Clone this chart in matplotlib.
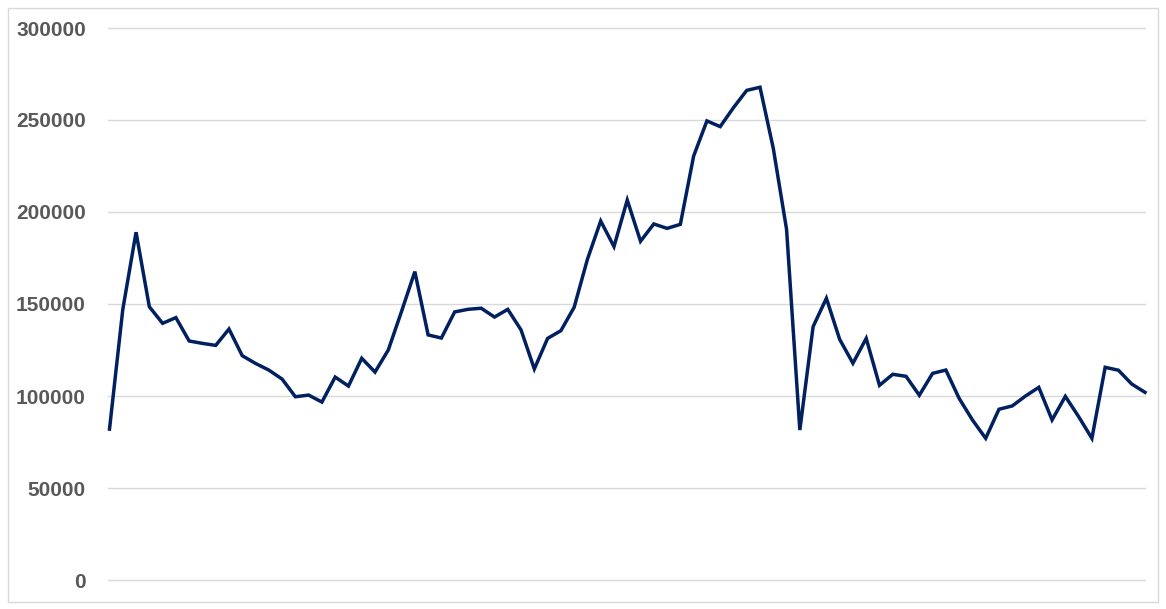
#!/usr/bin/env python3
"""
Recreate a single-series line chart (Excel style) and save as out.png.
"""
import matplotlib
matplotlib.use("Agg")
import matplotlib.pyplot as plt
from matplotlib.patches import Rectangle

# values, one per category (79 points)
values = [
    82000, 147000, 189000, 148500, 139500, 142600, 129900, 128600, 127500, 136400,
    121900, 117700, 114100, 109200, 99600, 100500, 96700, 110300, 105400, 120500,
    113000, 125000, 146000, 167600, 133200, 131500, 145700, 147100, 147700, 142900,
    147100, 135900, 114700, 131300, 135500, 148200, 174300, 195100, 181200, 206500,
    184100, 193500, 191100, 193300, 230400, 249500, 246400, 256700, 266100, 267800,
    234600, 190600, 81500, 137700, 153100, 130800, 117800, 131300, 105800, 111800,
    110700, 100400, 112300, 114100, 98700, 87000, 77000, 92800, 94600, 100000,
    104700, 87000, 99800, 88800, 77000, 115600, 114000, 106500, 102000,
]
categories = list(range(len(values)))
y_ticks = [0, 50000, 100000, 150000, 200000, 250000, 300000]

LINE = "#002060"
GRID = "#d9d9d9"
LABEL = "#595959"

W, H = 1166, 609
fig = plt.figure(figsize=(W / 100, H / 100), dpi=100)

# plot area in pixel terms
left, right, top, bottom = 109.5, 1145, 28, 580
ax = fig.add_axes([left / W, 1 - bottom / H, (right - left) / W, (bottom - top) / H])

ax.plot(categories, values, color=LINE, linewidth=2.5, solid_joinstyle="miter",
        clip_on=False, zorder=3)

ax.set_xlim(0, len(values) - 1)
ax.set_ylim(0, 300000)
ax.set_yticks(y_ticks)
ax.set_yticklabels([str(t) for t in y_ticks])
ax.set_xticks([])
ax.tick_params(axis="y", length=0, pad=17, labelsize=15, labelcolor=LABEL)
for lab in ax.get_yticklabels():
    lab.set_fontfamily("Liberation Sans")
    lab.set_fontweight("bold")

# horizontal gridlines only, spanning slightly left of the first point
for t in y_ticks:
    ax.axhline(t, color=GRID, linewidth=1, zorder=1, xmin=-0.0015, clip_on=False)

for s in ax.spines.values():
    s.set_visible(False)

# chart border
fig.patches.append(Rectangle((7.5 / W, 1 - 601.5 / H), 1150.5 / W, 594 / H,
                             transform=fig.transFigure, fill=False,
                             edgecolor=GRID, linewidth=1))

fig.savefig("out.png", dpi=100)
